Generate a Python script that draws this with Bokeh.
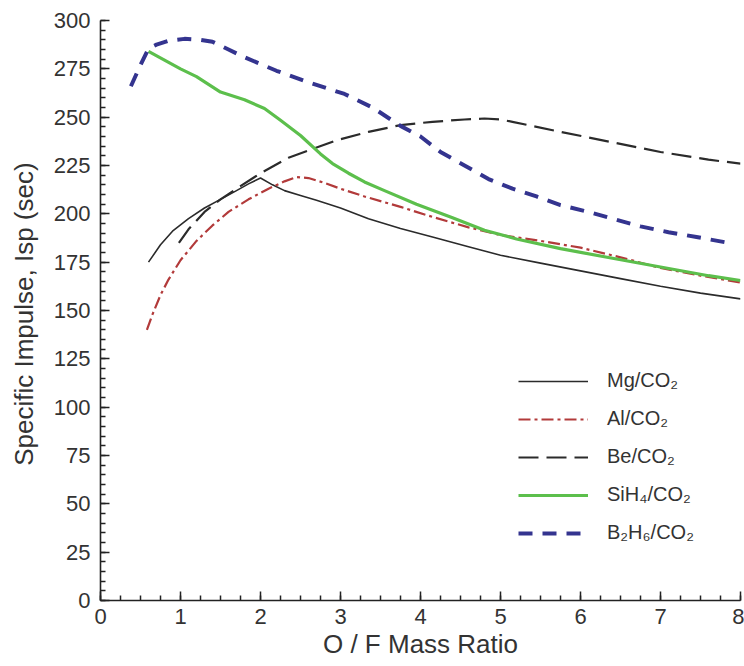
from bokeh.plotting import figure
from bokeh.models import FixedTicker, Legend, LegendItem
from bokeh.embed import file_html
from bokeh.resources import INLINE

# ---- data ----
mg_x = [0.6, 0.75, 0.9, 1.1, 1.3, 1.5, 1.7, 1.85, 2.0, 2.15, 2.3, 2.5, 2.7, 3.0, 3.35, 3.75, 4.15, 4.6, 5.0, 5.5, 6.0, 6.5, 7.0, 7.5, 8.0]
mg_y = [175, 184, 191, 197.5, 203, 207.5, 212, 215.5, 218.5, 215, 212, 209.5, 207, 203, 197.5, 192.4, 188, 183, 178.6, 174.5, 170.5, 166.5, 162.5, 159, 156]

al_x = [0.58, 0.65, 0.75, 0.85, 1.0, 1.2, 1.4, 1.6, 1.85, 2.1, 2.3, 2.45, 2.6, 2.8, 3.0, 3.3, 3.75, 4.15, 4.6, 5.0, 5.5, 6.0, 6.5, 7.0, 7.5, 8.0]
al_y = [140, 148, 158, 166, 176, 186, 194, 201, 207.5, 213, 216.8, 219, 218.5, 216, 213, 209, 203.6, 198.4, 193, 189, 186, 182.5, 177.5, 172, 168, 164.5]

be_x = [0.98, 1.1, 1.3, 1.5, 1.7, 2.0, 2.35, 2.65, 2.95, 3.35, 3.75, 4.15, 4.55, 4.8, 5.0, 5.15, 5.75, 6.4, 7.0, 7.6, 8.0]
be_y = [185, 192, 201, 207.5, 213, 221, 229, 233.5, 238, 242.4, 245.9, 247.6, 248.8, 249.3, 248.8, 247.6, 242.4, 237, 232, 228, 226]

si_x = [0.6, 0.8, 1.0, 1.2, 1.5, 1.8, 2.05, 2.25, 2.5, 2.75, 2.9, 3.1, 3.3, 3.55, 3.95, 4.4, 4.8, 5.2, 5.75, 6.4, 7.0, 7.6, 8.0]
si_y = [284, 279.5, 275, 271, 263, 259, 254.5, 248.4, 240.5, 231, 226, 221, 216.5, 212, 205, 198, 191.5, 187, 182, 177, 172.5, 168, 165.5]

b2_x = [0.38, 0.5, 0.6, 0.7, 0.85, 1.05, 1.25, 1.4, 1.6, 1.8, 2.2, 2.6, 3.05, 3.4, 3.75, 4.0, 4.25, 4.55, 4.85, 5.15, 5.45, 5.75, 6.1, 6.4, 6.75, 7.1, 7.45, 7.85]
b2_y = [266, 277, 285.5, 287.5, 289.5, 290.5, 290, 289, 285, 281, 274, 268, 262, 255, 245.5, 240, 232, 225, 218, 213, 209, 204.5, 201, 197.5, 193.5, 190.5, 188, 185]

labels = ["Mg/CO\u2082", "Al/CO\u2082", "Be/CO\u2082", "SiH\u2084/CO\u2082", "B\u2082H\u2086/CO\u2082"]
x_ticks = [0, 1, 2, 3, 4, 5, 6, 7, 8]
y_ticks = [0, 25, 50, 75, 100, 125, 150, 175, 200, 225, 250, 275, 300]

FONT = "Liberation Sans"
TXT = "#333333"

p = figure(width=744, height=666, x_range=(0, 8), y_range=(0, 300),
           output_backend="svg", toolbar_location=None,
           min_border_left=100, min_border_right=4, min_border_top=20, min_border_bottom=66)
p.outline_line_color = None
p.grid.visible = False
p.background_fill_color = "white"
p.border_fill_color = "white"

r_mg = p.line(mg_x, mg_y, line_color="#2b2b2b", line_width=1.6, line_join="round")
r_al = p.line(al_x, al_y, line_color="#b23a3a", line_width=2.2, line_dash="12 4 3 4", line_join="round")
r_be = p.line(be_x, be_y, line_color="#2b2b2b", line_width=2.2, line_dash="20 8", line_join="round")
r_si = p.line(si_x, si_y, line_color="#5cbf4c", line_width=3.2, line_join="round")
r_b2 = p.line(b2_x, b2_y, line_color="#34348f", line_width=4, line_dash="14 10", line_join="round")

x_minor = [i * 0.25 for i in range(33)]
y_minor = [i * 5 for i in range(61)]
p.xaxis.ticker = FixedTicker(ticks=x_ticks, minor_ticks=x_minor)
p.yaxis.ticker = FixedTicker(ticks=y_ticks, minor_ticks=y_minor)

for ax in (p.xaxis, p.yaxis):
    ax.axis_line_color = "#222222"
    ax.axis_line_width = 1.6
    ax.major_tick_in = 9
    ax.major_tick_out = 0
    ax.minor_tick_in = 5
    ax.minor_tick_out = 0
    ax.major_tick_line_color = "#222222"
    ax.minor_tick_line_color = "#222222"
    ax.major_tick_line_width = 1.5
    ax.minor_tick_line_width = 1.5
    ax.major_label_text_font = FONT
    ax.major_label_text_font_size = "22px"
    ax.major_label_text_color = TXT
    ax.axis_label_text_font = FONT
    ax.axis_label_text_font_size = "26px"
    ax.axis_label_text_font_style = "normal"
    ax.axis_label_text_color = TXT

p.xaxis.axis_label = "O / F Mass Ratio"
p.yaxis.axis_label = "Specific Impulse, Isp  (sec)"
p.xaxis.major_label_standoff = 8
p.xaxis.axis_label_standoff = 2
p.yaxis.major_label_standoff = 10
p.yaxis.axis_label_standoff = 12

items = [LegendItem(label=l, renderers=[r]) for l, r in zip(labels, [r_mg, r_al, r_be, r_si, r_b2])]
legend = Legend(items=items, location=(418, 56), orientation="vertical",
                border_line_color=None, background_fill_alpha=0,
                label_text_font=FONT, label_text_font_size="20px", label_text_color=TXT,
                glyph_width=70, glyph_height=22, label_height=22, label_standoff=19,
                spacing=15, padding=0, margin=0)
p.add_layout(legend, "center")

open("out.html", "w").write(file_html(p, INLINE))
